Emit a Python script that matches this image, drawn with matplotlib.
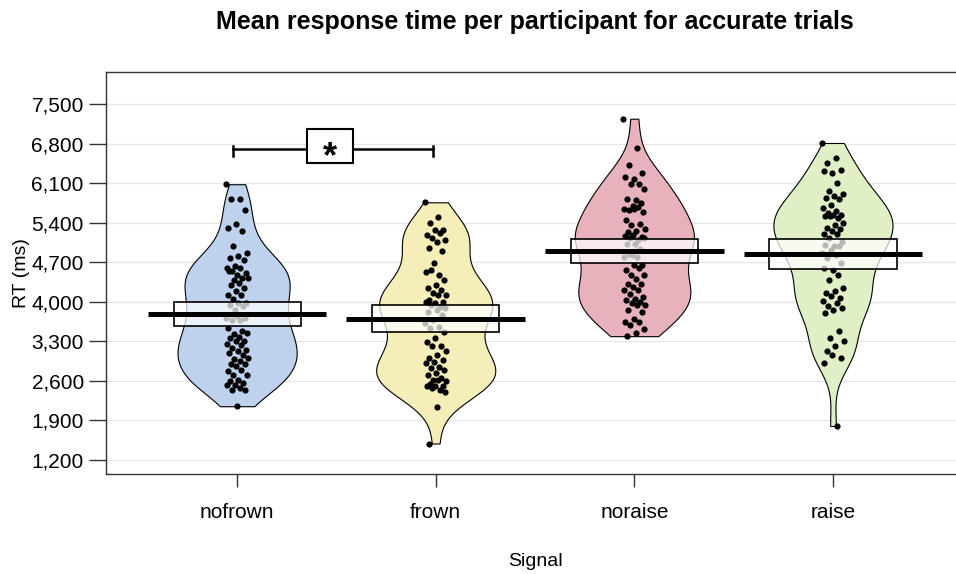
import numpy as np
import matplotlib.pyplot as plt
from matplotlib.patches import Rectangle

plt.rcParams['font.family'] = ['Liberation Sans', 'DejaVu Sans']

groups = ['nofrown', 'frown', 'noraise', 'raise']
colors = ['#BED2EE', '#F5EEB9', '#E8B2BC', '#DFF0C7']

# mean RT per participant (ms)
nofrown = [6080, 5820, 5810, 5630, 5380, 5300, 5260, 4990, 4860, 4810, 4770, 4740,
           4630, 4600, 4600, 4540, 4510, 4480, 4540, 4420, 4390, 4420, 4330, 4300,
           4240, 4190, 4120, 4120, 4040, 3980, 3980, 3950, 3920, 3860, 3710, 3680,
           3680, 3710, 3740, 3540, 3480, 3420, 3450, 3380, 3360, 3300, 3300, 3250,
           3240, 3180, 3150, 3120, 3100, 3060, 2980, 3000, 2950, 2900, 2890, 2860,
           2770, 2800, 2710, 2700, 2620, 2600, 2560, 2530, 2530, 2480, 2440, 2440, 2150]
frown = [5760, 5505, 5390, 5270, 5270, 5180, 5210, 5120, 5090, 5060, 4950, 4890,
         4680, 4530, 4470, 4560, 4390, 4300, 4240, 4210, 4150, 4120, 4120, 4030,
         4000, 3970, 4000, 3910, 3940, 3880, 3850, 3820, 3770, 3680, 3620, 3560,
         3530, 3470, 3350, 3290, 3210, 3210, 3120, 3060, 3000, 2970, 2940, 2910,
         2850, 2820, 2790, 2730, 2700, 2650, 2620, 2590, 2620, 2550, 2500, 2500,
         2500, 2440, 2470, 2400, 2140, 1490]
noraise = [7240, 6720, 6420, 6270, 6180, 6210, 6090, 6090, 6000, 5800, 5820, 5740,
           5700, 5650, 5680, 5620, 5590, 5650, 5440, 5380, 5350, 5290, 5260, 5230,
           5150, 5180, 5160, 5090, 5120, 5120, 5030, 5030, 4940, 4820, 4790, 4790,
           4850, 4650, 4650, 4560, 4590, 4470, 4470, 4410, 4320, 4320, 4260, 4200,
           4200, 4140, 4080, 4050, 4030, 4000, 3970, 3940, 3940, 3850, 3820, 3700,
           3640, 3640, 3580, 3520, 3440, 3390]
raise_ = [6810, 6540, 6460, 6340, 6280, 6310, 6100, 5960, 5900, 5870, 5840, 5810,
          5720, 5660, 5600, 5570, 5540, 5540, 5510, 5480, 5510, 5390, 5360, 5300,
          5280, 5250, 5200, 5190, 5130, 5050, 4980, 5010, 4980, 4920, 4860, 4830,
          4770, 4690, 4570, 4600, 4480, 4390, 4240, 4190, 4160, 4070, 4100, 4010,
          3980, 3920, 3890, 3860, 3800, 3480, 3360, 3300, 3210, 3120, 3000, 3060,
          2920, 1800]
data = [nofrown, frown, noraise, raise_]

yticks = np.arange(1200, 7501, 700)

fig = plt.figure(figsize=(9.56, 5.74), dpi=100)
ax = fig.add_axes([0.1109, 0.1742, 0.8975, 0.7003])

pos = np.arange(1, len(groups) + 1)

parts = ax.violinplot(data, positions=pos, widths=0.6, showmeans=False,
                      showextrema=False, bw_method=0.35)
for body, c in zip(parts['bodies'], colors):
    body.set_facecolor(c)
    body.set_edgecolor('black')
    body.set_linewidth(0.8)
    body.set_alpha(1)
    body.set_zorder(2)

for p, vals in zip(pos, data):
    vals = np.asarray(vals, dtype=float)
    n = len(vals)
    jit = ((np.arange(n) * 0.618034) % 1 - 0.5) * 0.11
    ax.scatter(p + jit, vals, s=20, color='black', lw=0, zorder=3)
    m = vals.mean()
    ci = 1.96 * vals.std(ddof=1) / np.sqrt(n)
    ax.add_patch(Rectangle((p - 0.32, m - ci), 0.64, 2 * ci,
                           facecolor=(1, 1, 1, 0.72), edgecolor='black',
                           lw=1.2, zorder=4))
    ax.hlines(m, p - 0.45, p + 0.45, color='black', lw=3.6, zorder=5)

# significance bracket nofrown vs frown
by, bx0, bx1 = 6700, 0.98, 1.985
ax.plot([bx0, bx1], [by, by], color='black', lw=1.8, zorder=5)
ax.plot([bx0, bx0], [by + 50, by - 120], color='black', lw=1.8, zorder=5)
ax.plot([bx1, bx1], [by + 50, by - 120], color='black', lw=1.8, zorder=5)
ax.add_patch(Rectangle((1.468 - 0.116, 6757 - 300), 0.232, 600,
                       facecolor='white', edgecolor='black', lw=1.5, zorder=6))
ax.annotate('*', (1.468, 6757), xytext=(0, -15), textcoords='offset points',
            ha='center', va='baseline', fontsize=26, fontweight='bold', zorder=7)

ax.set_xlim(0.34, 4.66)
ax.set_ylim(950, 8066)
ax.set_yticks(yticks)
ax.set_yticklabels([f'{t:,}' for t in yticks])
ax.set_xticks(pos)
ax.set_xticklabels(groups)
for t in yticks:
    ax.axhline(t, color='#E6E6E6', lw=1, zorder=0)

ax.tick_params(axis='y', length=12, width=1, pad=4, labelsize=15, color='#333333')
ax.tick_params(axis='x', length=9, width=1, pad=12, labelsize=15, color='#333333')
for s in ax.spines.values():
    s.set_color('#333333')
    s.set_linewidth(1)

fig.text(535 / 956, 1 - 22 / 574, 'Mean response time per participant for accurate trials',
         ha='center', va='center', fontsize=18, fontweight='bold')
fig.text(21 / 956, 1 - 273 / 574, 'RT (ms)', rotation=90, ha='center', va='center',
         fontsize=14)
fig.text(535 / 956, 1 - 562 / 574, 'Signal', ha='center', va='center', fontsize=14)

fig.savefig('out.png', dpi=100)
